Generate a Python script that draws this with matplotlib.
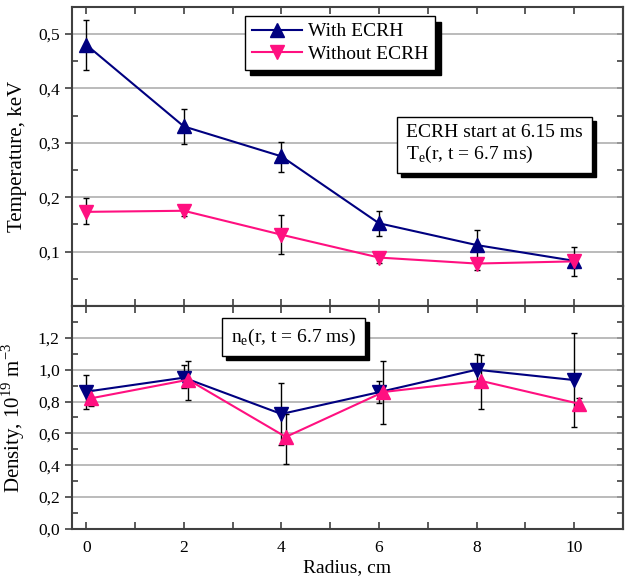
import matplotlib
matplotlib.use("Agg")
import matplotlib.pyplot as plt
import matplotlib.transforms as mtransforms
from matplotlib.patches import Rectangle
from matplotlib.ticker import MultipleLocator, FuncFormatter

plt.rcParams['font.family'] = ['Liberation Serif', 'DejaVu Serif']
plt.rcParams['mathtext.fontset'] = 'custom'
plt.rcParams['mathtext.rm'] = 'Liberation Serif'

radius = [0, 2, 4, 6, 8, 10]

# Temperature (keV)
te_with = [0.480, 0.330, 0.275, 0.152, 0.112, 0.083]
te_with_lo = [0.433, 0.297, 0.246, 0.128, 0.086, 0.056]
te_with_hi = [0.525, 0.362, 0.302, 0.174, 0.139, 0.109]
te_without = [0.173, 0.175, 0.131, 0.089, 0.078, 0.082]
te_without_lo = [0.151, 0.166, 0.095, 0.079, 0.066, 0.070]
te_without_hi = [0.198, 0.186, 0.167, 0.100, 0.086, 0.094]

# Density (1e19 m^-3)
ne_with = [0.862, 0.950, 0.722, 0.859, 1.000, 0.935]
ne_with_lo = [0.755, 0.887, 0.526, 0.790, 0.900, 0.640]
ne_with_hi = [0.966, 1.027, 0.916, 0.926, 1.100, 1.229]
ne_without = [0.820, 0.937, 0.578, 0.860, 0.930, 0.787]
ne_without_lo = [0.770, 0.810, 0.407, 0.657, 0.755, 0.750]
ne_without_hi = [0.870, 1.052, 0.720, 1.054, 1.090, 0.820]
ne_without_dx = 0.09

navy = '#000080'
pink = '#ff1080'
spine_col = '#404040'
grid_col = '#a8a8a8'

fig = plt.figure(figsize=(6.28, 5.78), dpi=100)
ax1 = fig.add_axes([0.114, 0.4706, 0.878, 0.5178])
ax2 = fig.add_axes([0.114, 0.0848, 0.878, 0.3858], sharex=ax1)

def err(v, lo, hi):
    return [[a - b for a, b in zip(v, lo)], [c - a for a, c in zip(v, hi)]]

ms = 10
ekw = dict(fmt='none', ecolor='black', elinewidth=1, capsize=2.5, capthick=1, zorder=3)
ax1.errorbar(radius, te_with, yerr=err(te_with, te_with_lo, te_with_hi), **ekw)
ax1.errorbar(radius, te_without, yerr=err(te_without, te_without_lo, te_without_hi), **ekw)
ax1.plot(radius, te_with, color=navy, marker='^', ms=ms, lw=1.5, label='With ECRH', zorder=4)
ax1.plot(radius, te_without, color=pink, marker='v', ms=ms, lw=1.5, label='Without ECRH', zorder=4)

rx2 = [r + ne_without_dx for r in radius]
ax2.errorbar(radius, ne_with, yerr=err(ne_with, ne_with_lo, ne_with_hi), **ekw)
ax2.errorbar(rx2, ne_without, yerr=err(ne_without, ne_without_lo, ne_without_hi), **ekw)
ax2.plot(radius, ne_with, color=navy, marker='v', ms=ms, lw=1.5, zorder=4)
ax2.plot(rx2, ne_without, color=pink, marker='^', ms=ms, lw=1.5, zorder=4)

comma = FuncFormatter(lambda v, p: ('%.1f' % v).replace('.', ','))

for ax in (ax1, ax2):
    ax.set_xlim(-0.3, 11.0)
    for s in ax.spines.values():
        s.set_color(spine_col)
        s.set_linewidth(1.5)
    ax.yaxis.grid(True, which='major', color=grid_col, lw=1.1)
    ax.set_axisbelow(True)
    ax.xaxis.set_major_locator(MultipleLocator(2))
    ax.xaxis.set_minor_locator(MultipleLocator(1))
    ax.tick_params(axis='x', which='both', direction='in', top=True, length=5,
                   color=spine_col, width=1.2, labelsize=12.5, pad=8)
    ax.tick_params(axis='y', which='major', direction='out', length=5, color=spine_col,
                   width=1.2, labelsize=12.5)
    ax.tick_params(axis='y', which='minor', direction='in', length=4, color=spine_col, width=1.2)
    ax.yaxis.set_major_formatter(comma)

for ax, mj, mn in ((ax1, 0.1, 0.05), (ax2, 0.2, 0.1)):
    ax.yaxis.set_major_locator(MultipleLocator(mj))
    ax.yaxis.set_minor_locator(MultipleLocator(mn))
    sec = ax.secondary_yaxis('right')
    sec.yaxis.set_major_locator(MultipleLocator(mn))
    sec.tick_params(direction='in', length=4, color=spine_col, width=1.2, labelright=False)
    sec.spines['right'].set_color(spine_col)
    sec.spines['right'].set_linewidth(1.5)

ax1.set_ylim(0, 0.55)
ax1.set_yticks([0.1, 0.2, 0.3, 0.4, 0.5])
ax2.set_ylim(0, 1.4)
ax2.set_yticks([0.0, 0.2, 0.4, 0.6, 0.8, 1.0, 1.2])
ax1.tick_params(axis='x', labelbottom=False)

ax1.set_ylabel('Temperature, keV', fontsize=15, labelpad=8)
ax2.set_ylabel('Density, 10$^{19}$ m$^{-3}$', fontsize=15, labelpad=8)
ax2.set_xlabel('Radius, cm', fontsize=14, labelpad=2)

leg = ax1.legend(loc='upper left', bbox_to_anchor=(0.314, 0.969), borderaxespad=0,
                 fancybox=False, fontsize=14, handlelength=2.6, handletextpad=0.3,
                 borderpad=0.35, labelspacing=0.25,
                 shadow={'color': 'black', 'alpha': 1, 'ox': 4, 'oy': -4})
leg.get_frame().set_edgecolor('black')
leg.get_frame().set_linewidth(1.0)

boxes = []
def boxed_text(ax, x, y, s, fs):
    t = ax.text(x, y, s, transform=ax.transAxes, fontsize=fs, ha='center', va='center',
                multialignment='left', color='black',
                bbox=dict(boxstyle='square,pad=0.45', fc='white', ec='black', lw=1), zorder=7)
    boxes.append((ax, t))

boxed_text(ax1, 0.767, 0.541, 'ECRH start at 6.15 ms\nT$_{\\rm e}$(r, t = 6.7 ms)', 14)
boxed_text(ax2, 0.402, 0.861, 'n$_{\\rm e}$(r, t = 6.7 ms)', 14)

fig.canvas.draw()
for ax, t in boxes:
    bb = t.get_bbox_patch().get_window_extent()
    shadow = Rectangle((bb.x0 + 4, bb.y0 - 4), bb.width, bb.height,
                       transform=mtransforms.IdentityTransform(),
                       fc='black', ec='black', zorder=6, clip_on=False)
    ax.add_artist(shadow)

fig.savefig('out.png', dpi=100)
